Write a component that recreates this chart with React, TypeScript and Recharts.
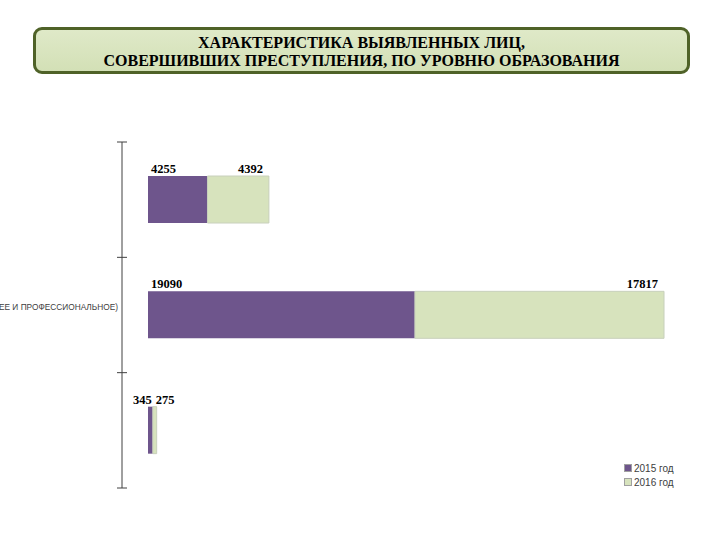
import React from 'react'
import { BarChart, Bar, XAxis, YAxis, LabelList } from 'recharts'

const categories = ['ВЫСШЕЕ', 'СРЕДНЕЕ', 'НАЧАЛЬНОЕ']
const tickLabels = ['', 'СРЕДНЕЕ (ОБЩЕЕ И ПРОФЕССИОНАЛЬНОЕ)', '']
const values2015 = [4255, 19090, 345]
const values2016 = [4392, 17817, 275]
const seriesNames = ['2015 год', '2016 год']
const titleLines = [
  'ХАРАКТЕРИСТИКА ВЫЯВЛЕННЫХ ЛИЦ,',
  'СОВЕРШИВШИХ ПРЕСТУПЛЕНИЯ, ПО УРОВНЮ ОБРАЗОВАНИЯ',
]

const PURPLE = '#6e558c'
const GREEN = '#d7e3bd'
const seriesColors = [PURPLE, GREEN]

const data = categories.map((name, i) => ({
  name,
  label: tickLabels[i],
  y2015: values2015[i],
  y2016: values2016[i],
}))

const W = 720
const H = 540
const margin = { top: 142, right: 40, bottom: 52, left: 62 }
const yAxisWidth = 60
const axisX = margin.left + yAxisWidth
const band = (H - margin.top - margin.bottom) / categories.length

const CategoryTick = (props: any) => {
  const { y, index } = props
  const label = data[index]?.label ?? ''
  const top = y - band / 2
  return (
    <g>
      <line x1={axisX - 5} x2={axisX + 5} y1={top} y2={top} stroke="#404040" />
      {index === categories.length - 1 && (
        <line x1={axisX - 5} x2={axisX + 5} y1={y + band / 2} y2={y + band / 2} stroke="#404040" />
      )}
      <text
        x={axisX - 4}
        y={y}
        dy={-5}
        textAnchor="end"
        fontSize={8.3}
        fontFamily="'Liberation Sans', sans-serif"
        fill="#404040"
      >
        {label}
      </text>
    </g>
  )
}

// labels sit above the bar; narrow bars push their labels apart
const makeLabel = (first: boolean) => (props: any) => {
  const { x, y, width, value } = props
  const narrow = width < 30
  let tx: number
  let anchor: 'start' | 'end'
  if (first) {
    tx = narrow ? x + width - 1 : x + 3
    anchor = narrow ? 'end' : 'start'
  } else {
    tx = narrow ? x + 3 : x + width - 6
    anchor = narrow ? 'start' : 'end'
  }
  return (
    <text
      x={tx}
      y={y - 3}
      textAnchor={anchor}
      fontSize={12.5}
      fontWeight="bold"
      fontFamily="'Liberation Serif', 'Times New Roman', serif"
      fill="#000"
    >
      {value}
    </text>
  )
}

export default function App() {
  return (
    <div style={{ position: 'absolute', left: 0, top: 0, width: W, height: H, background: '#fff' }}>
      <div
        style={{
          position: 'absolute',
          left: 33,
          top: 27,
          width: 651,
          height: 37,
          border: '3px solid #4f6228',
          borderRadius: 9,
          background: 'linear-gradient(#dfe9c8, #d3e0b6)',
          fontFamily: "'Liberation Serif', 'Times New Roman', serif",
          fontWeight: 'bold',
          fontSize: 16,
          lineHeight: '18px',
          textAlign: 'center',
          paddingTop: 4,
          boxSizing: 'content-box',
          color: '#000',
        }}
      >
        {titleLines.map((t) => (
          <div key={t}>{t}</div>
        ))}
      </div>
      <BarChart
        width={W}
        height={H}
        data={data}
        layout="vertical"
        margin={margin}
        style={{ position: 'absolute', left: 0, top: 0 }}
      >
        <XAxis type="number" hide domain={[-1860, 38050]} allowDataOverflow />
        <YAxis
          type="category"
          dataKey="name"
          width={yAxisWidth}
          axisLine={{ stroke: '#404040' }}
          tickLine={false}
          tick={<CategoryTick />}
          interval={0}
        />
        <Bar dataKey="y2015" name={seriesNames[0]} stackId="a" fill={PURPLE} barSize={47} isAnimationActive={false}>
          <LabelList dataKey="y2015" content={makeLabel(true)} />
        </Bar>
        <Bar
          dataKey="y2016"
          name={seriesNames[1]}
          stackId="a"
          fill={GREEN}
          stroke="#c8d0bc"
          barSize={47}
          isAnimationActive={false}
        >
          <LabelList dataKey="y2016" content={makeLabel(false)} />
        </Bar>
      </BarChart>
      <div
        style={{
          position: 'absolute',
          left: 624,
          top: 461,
          fontFamily: "'Liberation Sans', sans-serif",
          fontSize: 10,
          color: '#404040',
        }}
      >
        {seriesNames.map((s, i) => (
          <div key={s} style={{ display: 'flex', alignItems: 'center', height: 14 }}>
            <span
              style={{
                display: 'inline-block',
                width: 6,
                height: 6,
                marginRight: 2,
                background: seriesColors[i],
                border: '1px solid #a0a0a0',
              }}
            />
            {s}
          </div>
        ))}
      </div>
    </div>
  )
}
